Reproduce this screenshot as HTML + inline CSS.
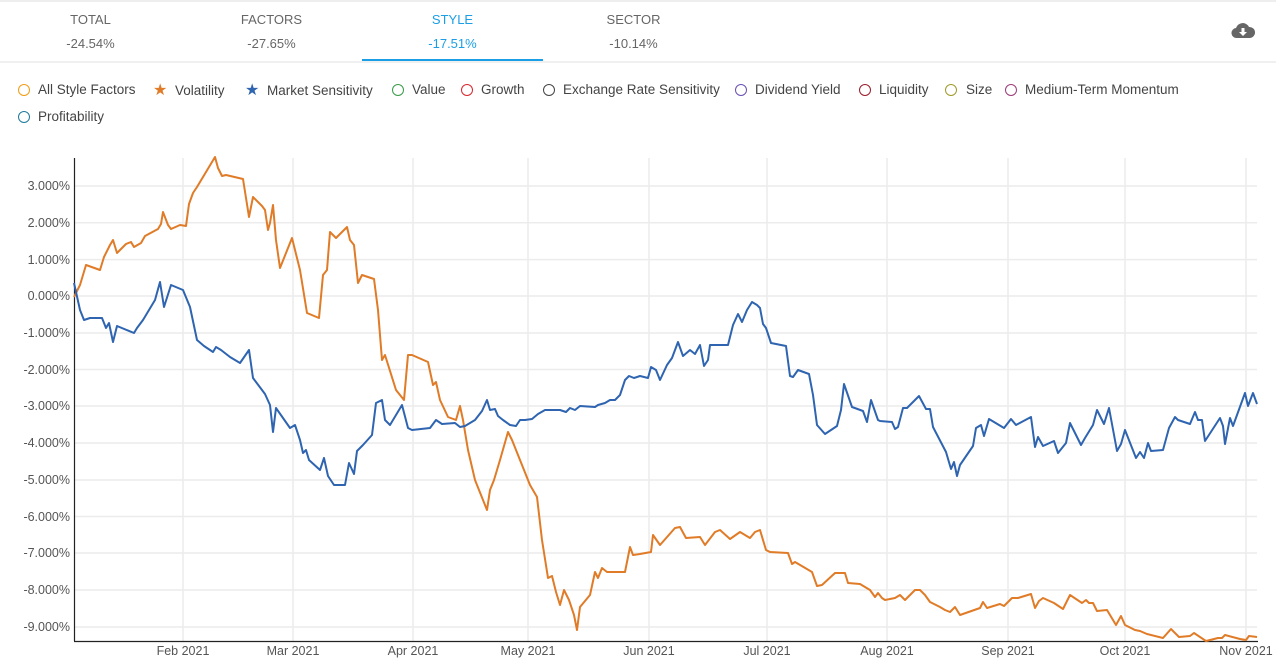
<!DOCTYPE html>
<html><head><meta charset="utf-8"><style>
body{margin:0;width:1276px;height:669px;background:#fff;font-family:"Liberation Sans",sans-serif;position:relative;overflow:hidden}
.t{position:absolute;width:181px;text-align:center;color:#666;font-size:13px}
.lg{position:absolute;font-size:13.5px;color:#444;white-space:nowrap}
.ic{position:absolute;width:10px;height:10px;border-radius:50%;border:1.6px solid}
</style></head><body>
<div style="position:absolute;left:0;top:0;width:1276px;height:2px;background:#eee"></div>
<div style="position:absolute;left:0;top:61px;width:1276px;height:2px;background:#f0f0f0"></div>
<div class="t" style="left:0;top:12px">TOTAL</div><div class="t" style="left:0;top:36px">-24.54%</div>
<div class="t" style="left:181px;top:12px">FACTORS</div><div class="t" style="left:181px;top:36px">-27.65%</div>
<div class="t" style="left:362px;top:12px;color:#1a9fe6">STYLE</div><div class="t" style="left:362px;top:36px;color:#1a9fe6">-17.51%</div>
<div style="position:absolute;left:362px;top:59px;width:181px;height:2px;background:#1a9fe6"></div>
<div class="t" style="left:543px;top:12px">SECTOR</div><div class="t" style="left:543px;top:36px">-10.14%</div>
<svg style="position:absolute;left:1231px;top:22px" width="24" height="18" viewBox="0 0 24 18"><path d="M6 16 A5 5 0 0 1 5 6 A7 7 0 0 1 18 5 A5.5 5.5 0 0 1 19 16 Z" fill="#666"/><path d="M10.5 6h3v4h2.5l-4 4-4-4h2.5z" fill="#fff"/></svg>

<div class="ic" style="left:18px;top:84px;border-color:#f39c12"></div><div class="lg" style="left:38px;top:82px">All Style Factors</div>
<div class="lg" style="left:153px;top:80px;color:#e07b27;font-size:16px">★</div><div class="lg" style="left:175px;top:83px">Volatility</div>
<div class="lg" style="left:245px;top:80px;color:#2e64b0;font-size:16px">★</div><div class="lg" style="left:267px;top:83px">Market Sensitivity</div>
<div class="ic" style="left:392px;top:84px;border-color:#3a9a48"></div><div class="lg" style="left:412px;top:82px">Value</div>
<div class="ic" style="left:461px;top:84px;border-color:#d9262e"></div><div class="lg" style="left:481px;top:82px">Growth</div>
<div class="ic" style="left:543px;top:84px;border-color:#444"></div><div class="lg" style="left:563px;top:82px">Exchange Rate Sensitivity</div>
<div class="ic" style="left:735px;top:84px;border-color:#6a4fb5"></div><div class="lg" style="left:755px;top:82px">Dividend Yield</div>
<div class="ic" style="left:859px;top:84px;border-color:#9b1c2a"></div><div class="lg" style="left:879px;top:82px">Liquidity</div>
<div class="ic" style="left:945px;top:84px;border-color:#a09a2a"></div><div class="lg" style="left:966px;top:82px">Size</div>
<div class="ic" style="left:1005px;top:84px;border-color:#9b3a7a"></div><div class="lg" style="left:1025px;top:82px">Medium-Term Momentum</div>
<div class="ic" style="left:18px;top:111px;border-color:#1f7a9a"></div><div class="lg" style="left:38px;top:109px">Profitability</div>

<svg style="position:absolute;left:0;top:0" width="1276" height="669">
<g stroke="#ececec" stroke-width="1.5">
<line x1="74" x2="1257" y1="186" y2="186"/><line x1="74" x2="1257" y1="222.8" y2="222.8"/><line x1="74" x2="1257" y1="259.6" y2="259.6"/><line x1="74" x2="1257" y1="296" y2="296"/><line x1="74" x2="1257" y1="333" y2="333"/><line x1="74" x2="1257" y1="369.5" y2="369.5"/><line x1="74" x2="1257" y1="406" y2="406"/><line x1="74" x2="1257" y1="443" y2="443"/><line x1="74" x2="1257" y1="480" y2="480"/><line x1="74" x2="1257" y1="516.5" y2="516.5"/><line x1="74" x2="1257" y1="553" y2="553"/><line x1="74" x2="1257" y1="590" y2="590"/><line x1="74" x2="1257" y1="627" y2="627"/>
<line x1="183" x2="183" y1="158" y2="641"/><line x1="293" x2="293" y1="158" y2="641"/><line x1="413" x2="413" y1="158" y2="641"/><line x1="528" x2="528" y1="158" y2="641"/><line x1="649" x2="649" y1="158" y2="641"/><line x1="767" x2="767" y1="158" y2="641"/><line x1="887" x2="887" y1="158" y2="641"/><line x1="1008" x2="1008" y1="158" y2="641"/><line x1="1125" x2="1125" y1="158" y2="641"/><line x1="1246" x2="1246" y1="158" y2="641"/>
</g>
<line x1="74.5" x2="74.5" y1="158" y2="641" stroke="#222" stroke-width="1.2"/>
<line x1="74" x2="1258" y1="641.5" y2="641.5" stroke="#222" stroke-width="1.2"/>
<g font-size="12.5" fill="#555" text-anchor="end">
<text x="70" y="190">3.000%</text><text x="70" y="227">2.000%</text><text x="70" y="264">1.000%</text><text x="70" y="300">0.000%</text><text x="70" y="337">-1.000%</text><text x="70" y="374">-2.000%</text><text x="70" y="410">-3.000%</text><text x="70" y="447">-4.000%</text><text x="70" y="484">-5.000%</text><text x="70" y="521">-6.000%</text><text x="70" y="557">-7.000%</text><text x="70" y="594">-8.000%</text><text x="70" y="631">-9.000%</text>
</g>
<g font-size="12.5" fill="#555" text-anchor="middle">
<text x="183" y="655">Feb 2021</text><text x="293" y="655">Mar 2021</text><text x="413" y="655">Apr 2021</text><text x="528" y="655">May 2021</text><text x="649" y="655">Jun 2021</text><text x="767" y="655">Jul 2021</text><text x="887" y="655">Aug 2021</text><text x="1008" y="655">Sep 2021</text><text x="1125" y="655">Oct 2021</text><text x="1246" y="655">Nov 2021</text>
</g>
<polyline fill="none" stroke="#e07b27" stroke-width="2" stroke-linejoin="round" points="74,297 80,285 86,265 100,270 104,257 110,245 113,240 117,253 126,244 131,242 134,247 141,243 145,236 158,229 161,224 163,212 168,225 171,229 180,225 186,226 189,204 193,193 197,187 215,157 218,168 222,176 226,175 243,179 249,217 253,197 262,206 265,210 268,230 270,223 273,205 276,240 280,268 292,238 300,270 307,313 319,318 323,275 327,270 330,232 336,238 347,227 350,240 354,245 358,283 362,275 374,279 378,310 382,360 385,355 396,390 404,400 408,355 412,355 428,362 433,385 436,382 440,400 448,417 456,420 460,406 463,420 468,450 475,480 487,510 490,490 494,480 500,460 508,432 512,440 516,450 522,465 530,485 537,497 542,540 548,578 552,576 556,592 560,605 564,590 569,600 574,615 577,630 580,607 590,595 595,572 598,578 602,568 607,572 625,572 630,547 633,555 640,554 651,552 653,535 660,545 675,528 680,527 686,538 700,537 705,545 715,532 720,530 730,539 740,532 750,538 755,532 760,530 766,550 770,552 788,553 792,564 795,562 812,572 817,586 822,585 835,573 845,573 848,583 860,584 870,590 875,597 878,593 882,598 885,600 895,598 900,595 905,600 915,590 920,590 925,595 930,602 940,607 945,610 950,612 955,607 960,615 980,608 983,602 987,608 1000,604 1004,606 1012,598 1018,598 1031,594 1035,608 1039,601 1043,598 1054,603 1060,607 1063,609 1070,595 1082,603 1086,600 1089,603 1093,603 1097,611 1107,610 1110,615 1116,625 1121,616 1125,625 1135,630 1140,631 1147,634 1163,638 1171,629 1179,637 1190,636 1194,633 1206,641 1218,638 1222,638 1225,635 1240,639 1246,640 1249,636 1257,637"/>
<polyline fill="none" stroke="#2e64b0" stroke-width="2" stroke-linejoin="round" points="74,283 80,310 84,320 90,318 102,318 106,328 109,323 113,342 117,326 134,333 137,328 143,320 155,300 160,282 164,307 171,285 183,290 190,307 197,340 204,346 213,352 216,347 221,350 230,357 240,363 249,350 253,378 265,394 270,405 273,432 276,408 290,428 295,425 300,440 303,453 306,450 309,460 320,470 324,458 328,476 334,485 345,485 349,463 354,474 357,451 363,445 372,435 376,403 382,400 385,420 390,425 402,405 408,428 412,430 430,428 436,420 442,424 455,423 460,427 465,426 475,420 482,411 487,400 490,410 495,409 498,416 503,420 510,425 516,426 520,420 525,420 532,419 538,414 545,410 560,410 566,412 570,408 575,410 580,406 595,407 598,405 605,403 610,400 615,400 620,395 625,380 629,376 634,378 640,376 648,378 651,367 656,370 660,380 667,365 672,358 678,342 683,356 690,350 695,354 700,345 704,366 708,360 710,345 728,345 733,325 738,314 742,322 747,310 752,302 757,305 760,308 763,324 766,328 771,343 786,346 790,376 793,377 798,370 809,374 813,395 817,425 825,434 837,426 841,410 844,384 852,407 863,411 867,422 871,400 878,420 880,421 892,422 895,429 898,427 903,408 907,408 919,396 926,409 930,409 933,427 946,452 951,469 954,462 957,476 960,465 973,446 976,428 981,425 984,436 989,419 1004,428 1011,419 1016,425 1031,417 1035,447 1038,437 1043,446 1054,441 1058,453 1066,443 1070,423 1081,445 1085,438 1093,425 1097,410 1104,424 1109,408 1117,451 1121,444 1125,430 1136,458 1140,452 1144,458 1148,443 1151,451 1163,450 1169,428 1175,417 1178,420 1190,424 1195,412 1198,420 1202,420 1205,441 1220,418 1223,426 1225,444 1230,418 1233,426 1245,393 1248,406 1253,393 1257,404"/>
</svg>
</body></html>
